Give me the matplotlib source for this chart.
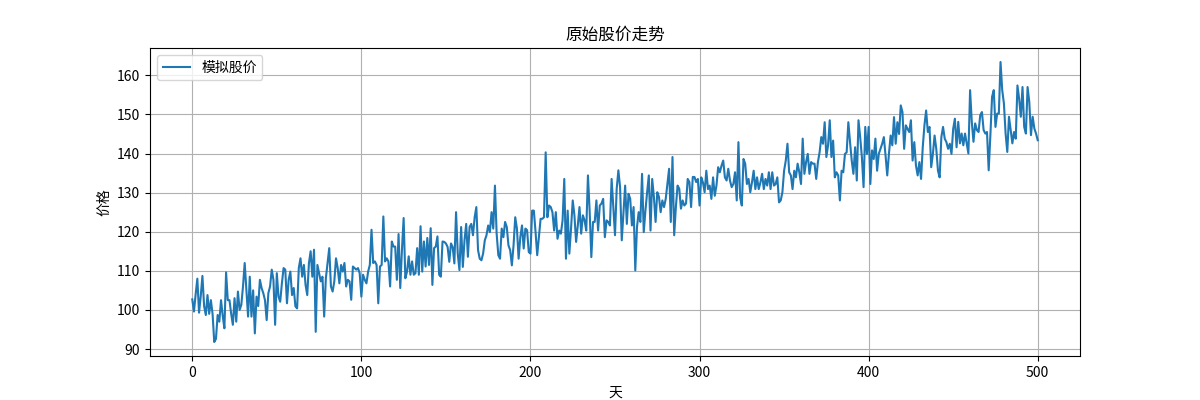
import numpy as np
import matplotlib
matplotlib.use("Agg")
import matplotlib.pyplot as plt

plt.rcParams['font.family'] = ['Noto Sans CJK SC', 'DejaVu Sans']
plt.rcParams['axes.unicode_minus'] = False

# values, one per day (0..500)
price = [
    102.7, 99.6, 104.0, 108.0, 99.3, 103.5, 108.7, 101.0, 98.7, 103.8,
    99.0, 102.5, 99.0, 91.8, 92.6, 98.7, 97.0, 102.5, 98.5, 95.3,
    109.6, 102.5, 102.5, 99.0, 96.2, 103.0, 97.0, 104.7, 100.0, 101.3,
    106.0, 112.0, 105.0, 98.3, 108.5, 98.3, 105.0, 94.0, 103.4, 101.0,
    107.7, 105.6, 104.3, 102.5, 97.4, 104.3, 106.0, 110.3,
    107.7, 96.2, 109.4, 103.4, 102.1, 106.8, 110.7, 110.3, 101.7, 107.7,
    109.8, 103.8, 105.6, 100.9, 100.4, 110.7, 113.2, 108.5, 111.5, 106.4,
    103.8, 112.0, 115.0, 108.5, 115.4, 94.4, 111.5, 109.4, 107.3, 108.5,
    98.3, 108.1, 112.0, 115.8, 106.0, 104.7, 107.3, 113.2, 110.7, 106.8,
    111.5, 109.8, 112.0, 106.0, 107.7, 107.3, 102.6, 111.1, 110.7, 110.3,
    110.7, 109.4, 103.4, 109.0, 107.7, 106.8, 109.8, 111.5, 120.5, 112.0,
    112.4, 111.5, 101.7, 111.1, 111.5, 123.9, 112.4, 113.2, 112.4, 106.0,
    117.5, 116.2, 116.2, 107.7, 119.4, 105.6, 115.4, 123.5, 108.1, 109.8,
    113.7, 109.0, 112.4, 109.0, 109.4, 115.8, 109.0, 121.4, 109.8, 117.5,
    111.1, 118.4, 111.5, 120.9, 106.4, 115.8, 116.2, 118.8, 109.0, 108.5,
    117.5,
    117.4, 117.0, 116.1, 112.3, 117.0, 116.1, 111.9, 125.0, 114.4, 110.2,
    121.2, 111.0, 117.8, 122.0, 113.6, 121.2, 122.0, 119.1, 123.7, 126.3,
    115.3, 113.1, 112.7, 114.4, 117.8, 119.1, 121.6, 119.9, 125.0, 120.8,
    131.8, 119.5, 114.0, 113.1, 120.8, 118.6, 122.5, 121.2, 116.5, 115.3,
    111.4, 116.5, 123.7, 120.8, 113.1, 118.6, 121.6, 115.7, 120.8, 120.4,
    114.8,
    114.4, 125.4, 125.4, 120.0, 114.0, 118.6, 123.3, 123.3, 123.7, 140.3,
    123.7, 126.7, 126.3, 125.0, 120.3, 125.0, 118.2, 120.3, 119.5, 122.9,
    133.5, 113.1, 125.4, 114.4, 120.8, 128.0, 124.2, 117.4, 121.6, 126.3,
    119.5, 124.2, 122.9, 120.3, 134.4, 125.4, 113.5, 122.5, 122.5, 128.0,
    120.3, 126.7, 127.2, 128.4, 118.6, 122.9, 122.5, 121.6, 133.5, 126.3,
    119.1, 131.0, 135.7, 131.4, 117.8, 125.0, 131.8, 122.0, 129.7, 128.4,
    121.6, 126.3, 110.1, 121.2, 125.0, 122.5, 134.8, 119.9, 125.4, 130.1,
    134.4, 120.3, 133.5, 128.9, 122.5, 130.1, 128.9, 125.0, 128.0, 126.3,
    128.4, 132.3, 136.1, 122.5, 139.1, 119.1, 126.3, 131.8, 131.0, 125.9,
    128.0, 126.7, 127.2, 133.5, 132.7, 126.3, 134.0, 134.0, 132.7, 133.5,
    126.7,
    133.9, 132.6, 130.1, 135.6, 130.9, 131.8, 128.4, 133.9, 129.2, 131.8,
    136.5, 135.2, 136.9, 138.2, 133.9, 133.1, 136.1, 133.1, 131.4, 132.2,
    135.2, 128.0, 142.9, 128.8, 126.7, 138.6, 137.4, 132.2, 133.5, 130.1,
    132.6, 135.6, 130.9, 133.9, 130.9, 132.6, 134.8, 130.9, 133.5, 131.8,
    135.2, 130.9, 135.2, 131.8, 132.2, 133.9, 127.5, 128.0, 130.1, 135.6,
    138.2,
    142.5, 135.2, 134.4, 130.9, 135.6, 133.9, 137.4, 135.2, 132.2, 143.8,
    134.8, 137.8, 139.9, 134.8, 137.8, 137.4, 137.4, 133.5, 137.8, 140.3,
    144.2, 142.5, 148.0, 139.1, 142.1, 148.5, 139.1, 143.3, 133.9, 135.2,
    134.4, 128.0, 135.6, 135.2, 139.9, 140.3, 148.0, 142.9, 138.2, 134.8,
    141.6, 133.1, 148.5, 144.2, 139.1, 131.4, 146.8, 139.9, 146.8, 132.2,
    140.8, 138.6, 143.8, 135.6, 139.9, 141.2, 142.5, 144.2, 139.5, 134.4,
    139.9, 144.6, 142.1, 149.3, 142.5, 148.0, 145.0, 152.3, 150.6, 141.2,
    147.2, 146.3, 145.5, 148.5, 138.2, 142.9, 136.9, 134.4, 137.8, 133.5,
    141.6, 147.2, 151.0, 145.5, 146.8, 136.5, 139.9, 144.6, 141.2, 135.6,
    133.9, 144.2, 146.8, 143.8, 142.9, 141.2, 142.5, 139.9, 146.3, 148.9,
    141.6,
    148.1, 142.6, 145.1, 142.1, 145.1, 142.6, 140.0, 156.2, 148.1, 143.0,
    147.7, 146.0, 145.5, 149.8, 150.6, 146.0, 145.1, 145.5, 135.7, 144.7,
    154.5, 156.2, 146.8, 150.2, 150.2, 163.4, 156.2, 152.8, 145.1, 140.4,
    149.4, 146.0, 142.6, 145.5, 143.8, 157.4, 154.0, 149.4, 157.0, 146.8,
    145.1, 157.0, 153.2, 144.7, 149.4, 146.4, 145.1, 143.4,
]
days = np.arange(len(price))

title = "原始股价走势"
series_label = "模拟股价"
x_label = "天"
y_label = "价格"

fig, ax = plt.subplots(figsize=(12, 4), dpi=100)
ax.plot(days, price, label=series_label, color="#1f77b4", linewidth=1.5)
ax.set_title(title)
ax.set_xlabel(x_label)
ax.set_ylabel(y_label)
ax.legend(loc="upper left")
ax.grid(True)

fig.savefig("out.png", dpi=100)
